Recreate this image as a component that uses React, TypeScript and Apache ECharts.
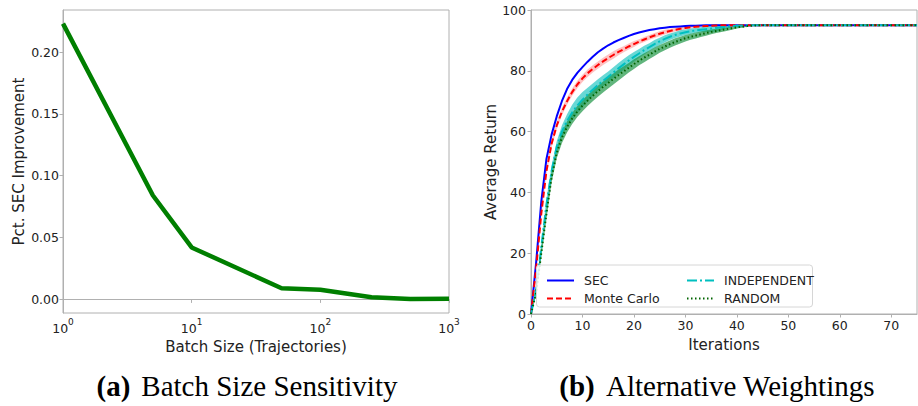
import React, { useEffect, useRef } from 'react';
import * as echarts from 'echarts';

// ---------- (a) Batch size sensitivity ----------
const batchSizes = [1, 5, 10, 50, 100, 250, 500, 1000];
const improvement = [0.223, 0.084, 0.042, 0.009, 0.0078, 0.0018, 0.0003, 0.0006];
const leftYTicks = [0, 0.05, 0.1, 0.15, 0.2];

// ---------- (b) Alternative weightings ----------
const iterations = [
  0, 1, 2, 3, 4, 5, 6, 7, 8, 9, 10, 11, 12, 13, 14, 15, 16, 17, 18, 19, 20, 21, 22,
  23, 24, 25, 26, 27, 28, 29, 30, 31, 32, 33, 34, 35, 36, 37, 38, 39, 40, 41, 42, 43, 44, 75,
];
const secReturn = [
  0, 17, 37, 51, 59, 65, 70, 74, 77, 79.3, 81.2, 83, 84.6, 86.1, 87.3, 88.4, 89.3, 90.1, 90.8,
  91.5, 92.1, 92.6, 93.0, 93.4, 93.7, 94.0, 94.2, 94.4, 94.5, 94.6, 94.7, 94.8, 94.85, 94.9,
  94.95, 95, 95, 95, 95, 95, 95, 95, 95, 95, 95, 95,
];
const mcReturn = [
  0, 15, 33, 47, 56, 62, 66.5, 70, 73, 75.5, 77.5, 79.2, 80.6, 81.9, 83.1, 84.2, 85.2, 86.2,
  87.1, 88, 88.8, 89.6, 90.3, 91, 91.6, 92.2, 92.7, 93.1, 93.5, 93.8, 94.1, 94.3, 94.5, 94.6,
  94.7, 94.8, 94.9, 94.95, 95, 95, 95, 95, 95, 95, 95, 95,
];
const indReturn = [
  0, 8, 22, 36, 47, 55, 60, 63.5, 66.3, 68.6, 70.5, 72.2, 73.8, 75.3, 76.7, 78, 79.4, 80.8,
  82.1, 83.4, 84.6, 85.7, 86.8, 87.8, 88.8, 89.7, 90.5, 91.2, 91.8, 92.3, 92.7, 93, 93.3, 93.5,
  93.7, 93.9, 94.1, 94.3, 94.5, 94.7, 94.8, 94.9, 94.95, 95, 95, 95,
];
const rndReturn = [
  0, 7, 20, 33, 45, 53, 58, 61.5, 64.3, 66.6, 68.5, 70.2, 71.8, 73.3, 74.7, 76, 77.3, 78.6,
  79.8, 81, 82.2, 83.3, 84.3, 85.3, 86.3, 87.2, 88, 88.8, 89.5, 90.1, 90.7, 91.2, 91.6, 92,
  92.4, 92.8, 93.1, 93.4, 93.7, 94, 94.3, 94.5, 94.7, 94.85, 94.95, 95,
];
// half-width of the shaded bands
const mcSpread = [
  0, 0.5, 1, 1.2, 1.2, 1.2, 1.2, 1.2, 1.2, 1.2, 1.2, 1.2, 1.2, 1.2, 1.2, 1.2, 1.2, 1.1, 1.0,
  1.0, 1.0, 0.8, 0.8, 0.8, 0.8, 0.8, 0.8, 0.7, 0.6, 0.6, 0.5, 0.4, 0.4, 0.3, 0.3, 0.2, 0.2,
  0, 0, 0, 0, 0, 0, 0, 0, 0,
];
const indSpread = [
  0, 1, 1.5, 1.8, 1.8, 1.8, 2.0, 2.2, 2.5, 2.6, 2.5, 2.2, 2.0, 1.9, 1.8, 1.8, 1.8, 1.8, 1.8,
  1.7, 1.6, 1.5, 1.4, 1.3, 1.3, 1.2, 1.2, 1.1, 1.0, 1.0, 0.9, 0.9, 0.8, 0.8, 0.9, 1.1, 1.2,
  0.9, 0.6, 0.4, 0.2, 0, 0, 0, 0, 0,
];
const rndSpread = [
  0, 1, 1.5, 1.8, 1.8, 1.8, 1.8, 1.8, 1.8, 1.8, 1.8, 1.8, 1.8, 1.8, 1.8, 1.8, 1.8, 1.8, 1.7,
  1.6, 1.6, 1.5, 1.5, 1.4, 1.4, 1.3, 1.2, 1.2, 1.2, 1.1, 1.1, 1.0, 1.0, 0.9, 0.9, 0.8, 0.7,
  0.6, 0.6, 0.5, 0.4, 0.3, 0.2, 0.1, 0, 0,
];
const rightXTicks = [0, 10, 20, 30, 40, 50, 60, 70];
const rightYTicks = [0, 20, 40, 60, 80, 100];

const FONT = 'DejaVu Sans';
const SERIF = 'Liberation Serif';
const AXIS_COLOR = '#b0b0b0';
const TEXT_COLOR = '#222222';

function pairs(xs: number[], ys: number[]) {
  return xs.map((x, i) => [x, ys[i]]);
}

// shaded band (mean ± spread) drawn as one polygon through the axes' scales
function bandSeries(key: string, ys: number[], spread: number[], color: string) {
  return {
    name: key + ' band',
    type: 'custom',
    xAxisIndex: 1,
    yAxisIndex: 1,
    silent: true,
    z: 1,
    data: iterations.map((t, i) => [t, ys[i] - spread[i], ys[i] + spread[i]]),
    renderItem: (params: any, api: any) => {
      if (params.dataIndex !== 0) return null;
      const upper: number[][] = [];
      const lower: number[][] = [];
      for (let i = 0; i < iterations.length; i++) {
        upper.push(api.coord([iterations[i], ys[i] + spread[i]]));
        lower.push(api.coord([iterations[i], ys[i] - spread[i]]));
      }
      const points = upper.concat(lower.reverse());
      return {
        type: 'polygon',
        shape: { points },
        style: { fill: color, stroke: 'none' },
      };
    },
  };
}

export default function App() {
  const ref = useRef<HTMLDivElement>(null);

  useEffect(() => {
    if (!ref.current) return;
    const chart = echarts.init(ref.current, null, { renderer: 'svg' });

    const tickLabel = { fontFamily: FONT, fontSize: 12.5, color: TEXT_COLOR };
    const axisName = { fontFamily: FONT, fontSize: 15, color: TEXT_COLOR };
    const lineAxis = { lineStyle: { color: AXIS_COLOR, width: 1 } };
    const tick = { show: true, length: 3.5, lineStyle: { color: AXIS_COLOR } };
    const legendCommon = {
      orient: 'vertical',
      top: 269,
      itemWidth: 27,
      itemHeight: 14,
      itemGap: 5,
      z: 20,
      itemStyle: { opacity: 0 },
      textStyle: { fontFamily: FONT, fontSize: 12.5, color: TEXT_COLOR, padding: [0, 0, 0, 5] },
    };

    const option: any = {
      animation: false,
      backgroundColor: '#ffffff',
      grid: [
        { left: 63, top: 10, width: 386, height: 303, show: true, borderColor: AXIS_COLOR, borderWidth: 1, backgroundColor: 'transparent' },
        { left: 531, top: 10, width: 386, height: 304, show: true, borderColor: AXIS_COLOR, borderWidth: 1, backgroundColor: 'transparent' },
      ],
      xAxis: [
        {
          gridIndex: 0,
          type: 'log',
          logBase: 10,
          min: 1,
          max: 1000,
          name: 'Batch Size (Trajectories)',
          nameLocation: 'middle',
          nameGap: 23,
          nameTextStyle: axisName,
          axisLine: lineAxis,
          axisTick: tick,
          splitLine: { show: false },
          axisLabel: {
            margin: 4,
            formatter: (v: number) => `{b|10}{s|${Math.round(Math.log10(v))}}`,
            rich: {
              b: { ...tickLabel, lineHeight: 18, verticalAlign: 'bottom' },
              s: { fontFamily: FONT, fontSize: 9, color: TEXT_COLOR, lineHeight: 10, verticalAlign: 'top' },
            },
          },
        },
        {
          gridIndex: 1,
          type: 'value',
          min: 0,
          max: 75,
          name: 'Iterations',
          nameLocation: 'middle',
          nameGap: 23,
          nameTextStyle: axisName,
          axisLine: lineAxis,
          axisTick: { ...tick, customValues: rightXTicks },
          splitLine: { show: false },
          axisLabel: { ...tickLabel, margin: 5, customValues: rightXTicks },
        },
      ],
      yAxis: [
        {
          gridIndex: 0,
          type: 'value',
          min: -0.011,
          max: 0.234,
          name: 'Pct. SEC Improvement',
          nameLocation: 'middle',
          nameGap: 37,
          nameTextStyle: axisName,
          axisLine: { show: true, ...lineAxis },
          axisTick: { ...tick, customValues: leftYTicks },
          splitLine: { show: false },
          axisLabel: { ...tickLabel, margin: 4, customValues: leftYTicks, formatter: (v: number) => v.toFixed(2) },
        },
        {
          gridIndex: 1,
          type: 'value',
          min: 0,
          max: 100,
          name: 'Average Return',
          nameLocation: 'middle',
          nameGap: 29,
          nameTextStyle: axisName,
          axisLine: { show: true, ...lineAxis },
          axisTick: { ...tick, customValues: rightYTicks },
          splitLine: { show: false },
          axisLabel: { ...tickLabel, margin: 5, customValues: rightYTicks },
        },
      ],
      legend: [
        { ...legendCommon, data: ['SEC', 'Monte Carlo'], left: 541 },
        { ...legendCommon, data: ['INDEPENDENT', 'RANDOM'], left: 681 },
      ],
      graphic: [
        {
          type: 'rect',
          z: 15,
          shape: { x: 536.5, y: 265, width: 276, height: 42, r: 3 },
          style: { fill: 'rgba(255,255,255,0.85)', stroke: '#d6d6d6', lineWidth: 1 },
        },
        {
          type: 'text',
          x: 247,
          y: 386,
          z: 15,
          style: {
            text: '{b|(a)}{n|Batch Size Sensitivity}',
            textAlign: 'center',
            textVerticalAlign: 'middle',
            rich: {
              b: { fontFamily: SERIF, fontWeight: 'bold', fontSize: 29, color: '#000', padding: [0, 11, 0, 0] },
              n: { fontFamily: SERIF, fontSize: 29, color: '#000' },
            },
          },
        },
        {
          type: 'text',
          x: 717,
          y: 386,
          z: 15,
          style: {
            text: '{b|(b)}{n|Alternative Weightings}',
            textAlign: 'center',
            textVerticalAlign: 'middle',
            rich: {
              b: { fontFamily: SERIF, fontWeight: 'bold', fontSize: 29, color: '#000', padding: [0, 11, 0, 0] },
              n: { fontFamily: SERIF, fontSize: 29, color: '#000' },
            },
          },
        },
      ],
      series: [
        {
          name: 'improvement',
          type: 'line',
          xAxisIndex: 0,
          yAxisIndex: 0,
          symbol: 'none',
          lineStyle: { color: '#007f00', width: 4.5 },
          data: pairs(batchSizes, improvement),
        },
        {
          name: 'SEC',
          type: 'line',
          xAxisIndex: 1,
          yAxisIndex: 1,
          symbol: 'none',
          itemStyle: { color: '#0000ff' },
          lineStyle: { color: '#0000ff', width: 2 },
          data: pairs(iterations, secReturn),
          z: 3,
        },
        bandSeries('mc', mcReturn, mcSpread, 'rgba(255,80,80,0.35)'),
        {
          name: 'Monte Carlo',
          type: 'line',
          xAxisIndex: 1,
          yAxisIndex: 1,
          symbol: 'none',
          itemStyle: { color: '#ff0000' },
          lineStyle: { color: '#ff0000', width: 2, type: [6, 3] },
          data: pairs(iterations, mcReturn),
          z: 3,
        },
        bandSeries('ind', indReturn, indSpread, 'rgba(40,200,195,0.7)'),
        {
          name: 'INDEPENDENT',
          type: 'line',
          xAxisIndex: 1,
          yAxisIndex: 1,
          symbol: 'none',
          itemStyle: { color: '#00bfbf' },
          lineStyle: { color: '#00bfbf', width: 2, type: [10, 3, 2, 3] },
          data: pairs(iterations, indReturn),
          z: 3,
        },
        bandSeries('rnd', rndReturn, rndSpread, 'rgba(30,150,70,0.7)'),
        {
          name: 'RANDOM',
          type: 'line',
          xAxisIndex: 1,
          yAxisIndex: 1,
          symbol: 'none',
          itemStyle: { color: '#008000' },
          lineStyle: { color: '#006400', width: 2, type: [1.5, 2.5] },
          data: pairs(iterations, rndReturn),
          z: 3,
        },
      ],
    };

    chart.setOption(option);
    return () => chart.dispose();
  }, []);

  return (
    <div
      ref={ref}
      style={{ position: 'fixed', left: 0, top: 0, width: 918, height: 406, background: '#ffffff' }}
    />
  );
}
